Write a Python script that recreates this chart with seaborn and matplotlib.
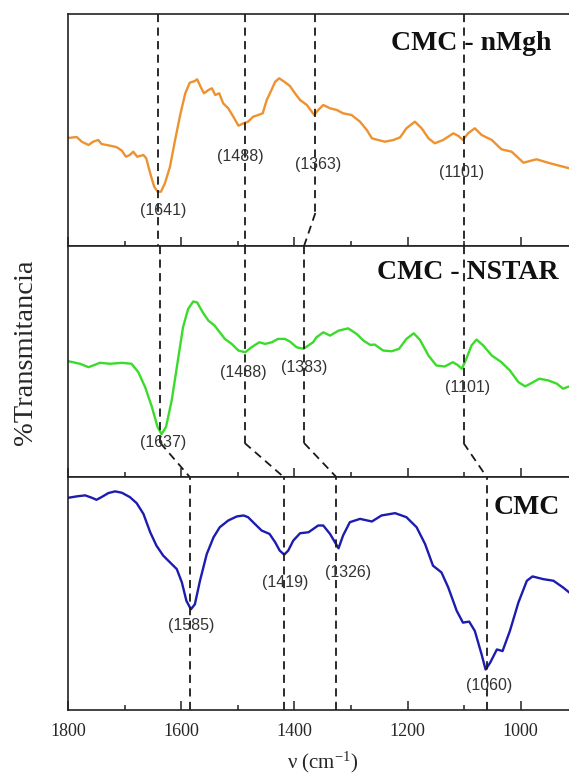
import matplotlib
matplotlib.use("Agg")
import matplotlib.pyplot as plt
import matplotlib.transforms as mtransforms
from matplotlib.ticker import MultipleLocator, NullLocator
import seaborn as sns
import pandas as pd

# ---------------- data ----------------
# CMC - nMgh (orange)
wn_nmgh = [1800, 1785, 1776, 1764, 1756, 1747, 1741, 1732, 1723, 1714, 1705, 1698, 1691, 1685,
           1678, 1667, 1662, 1655, 1648, 1642, 1636, 1629, 1620, 1611, 1602, 1593, 1585, 1576,
           1572, 1566, 1560, 1552, 1546, 1540, 1533, 1526, 1517, 1508, 1499, 1490, 1482, 1473,
           1464, 1456, 1449, 1442, 1434, 1427, 1418, 1408, 1399, 1390, 1378, 1365, 1358, 1349,
           1337, 1325, 1314, 1299, 1284, 1272, 1263, 1252, 1240, 1225, 1213, 1202, 1187, 1175,
           1163, 1152, 1137, 1119, 1110, 1102, 1093, 1081, 1069, 1051, 1034, 1016, 995, 972,
           948, 914, 900]
t_nmgh = [108, 109, 104.3, 101, 104.3, 106, 102, 101, 100, 98.7, 95.3, 89.3, 91, 94.3,
          89.3, 91, 87.7, 72.7, 59.3, 54.3, 54.3, 62.7, 79.3, 106, 131, 152.7, 163.3, 165,
          166.7, 159.3, 152.7, 156, 157.7, 151, 152.7, 142.7, 137.7, 129.3, 120.3, 122.7, 124.3, 129.3,
          131, 132.7, 146, 154.3, 164.3, 167.7, 164.3, 160, 152.7, 146, 141, 131, 136, 141,
          137.7, 136, 132.7, 131, 124.3, 116, 107.7, 106, 104.3, 106, 108.7, 117.7, 124.3, 117.7,
          107.7, 102.7, 106, 112.7, 110, 106, 112.7, 117.7, 111, 106, 96.7, 94.3, 83.3, 86.7,
          82.7, 77.7, 76]

# CMC - NSTAR (green)
wn_nstar = [1800, 1779, 1764, 1756, 1744, 1726, 1705, 1688, 1676, 1664, 1652, 1642, 1635, 1627,
            1617, 1607, 1597, 1588, 1579, 1572, 1562, 1552, 1541, 1532, 1523, 1511, 1499, 1487,
            1476, 1462, 1452, 1440, 1429, 1417, 1408, 1396, 1384, 1367, 1361, 1349, 1337, 1322,
            1305, 1290, 1278, 1266, 1258, 1243, 1228, 1215, 1202, 1189, 1178, 1163, 1149, 1134,
            1120, 1112, 1104, 1096, 1087, 1078, 1066, 1051, 1034, 1019, 1004, 992, 981, 967,
            951, 936, 925, 914, 900]
t_nstar = [116.3, 113.7, 110.3, 112, 114.7, 113.7, 114.7, 113.7, 105.3, 90.3, 70.3, 50.3, 43, 50.3,
           77, 113.7, 150.3, 168.7, 176.3, 175.3, 165.3, 157, 152, 145.3, 138.7, 133.7, 127, 125.3,
           130.3, 135.3, 133.7, 135.3, 138.7, 138.7, 136, 130.3, 128.7, 135.3, 140.3, 145.3, 142, 147,
           149.3, 143.7, 137, 132.7, 133, 127, 126.3, 128.7, 138.7, 144.3, 137.7, 122, 112, 111,
           115.3, 112.7, 108.7, 118.7, 132, 138, 132, 122, 115.3, 107, 95.3, 91, 94.3, 98.7,
           97, 93.7, 88.7, 91, 90]

# CMC (blue)
wn_cmc = [1800, 1785, 1770, 1758, 1750, 1741, 1729, 1717, 1705, 1691, 1679, 1667, 1655, 1644,
          1632, 1620, 1608, 1599, 1591, 1583, 1576, 1567, 1555, 1543, 1532, 1517, 1502, 1490,
          1482, 1470, 1458, 1444, 1434, 1426, 1418, 1411, 1402, 1390, 1375, 1358, 1349, 1337,
          1322, 1314, 1302, 1284, 1263, 1246, 1222, 1202, 1184, 1169, 1155, 1140, 1128, 1113,
          1102, 1091, 1081, 1069, 1062, 1054, 1042, 1032, 1019, 1004, 989, 979, 960, 942,
          925, 914, 900]
t_cmc = [211.3, 212.7, 213.7, 211.3, 209.3, 212, 216, 217.7, 216.3, 212, 206, 195.3, 177, 163.7,
         153.7, 147, 140.3, 127, 108.7, 100.3, 105.3, 128.7, 155.3, 172, 182, 188.7, 192.7, 193.7,
         192, 185.3, 178.7, 175.3, 167, 158.7, 154.7, 158.7, 168.7, 176, 177, 183.7, 183.7, 175.3,
         161, 173.7, 187, 190.3, 187.7, 193.7, 196, 192, 182, 165.3, 143.7, 137, 122, 98.7,
         87, 88, 78.7, 55.3, 40.3, 47, 60.3, 58.7, 78.7, 107, 128.7, 133, 130.3, 128.7,
         122, 117, 114]

titles = ["CMC - nMgh", "CMC - NSTAR", "CMC"]
colors = ["#EE9230", "#3ADB2A", "#1C1CB0"]

# peak positions (labels) per panel
peaks_nmgh = [1641, 1488, 1363, 1101]
peaks_nstar = [1637, 1488, 1383, 1101]
peaks_cmc = [1585, 1419, 1326, 1060]

# label anchor positions (wavenumber, transmittance units)
lab_x_nmgh = [1632, 1495, 1358, 1104]
lab_y_nmgh = [36, 90, 82, 74]
lab_x_nstar = [1632, 1491, 1382, 1094]
lab_y_nstar = [35, 105, 110, 90]
lab_x_cmc = [1583, 1417, 1305, 1056]
lab_y_cmc = [84, 127, 137, 24]

title_x = [1229, 1254, 1047]
title_y = [203, 205, 202]

xticks_major = [1800, 1600, 1400, 1200, 1000]

# ---------------- style ----------------
sns.set_theme(style="ticks")
plt.rcParams["font.family"] = ["Liberation Serif", "DejaVu Serif"]
plt.rcParams["mathtext.fontset"] = "stix"

W, H = 569, 778
fig = plt.figure(figsize=(W / 100, H / 100), dpi=100)

left = 68.2 / W
width = (577.2 - 68.2) / W
panels_px = [(14, 246), (246, 477), (477, 710)]
axes = []
for top, bot in panels_px:
    ax = fig.add_axes([left, (H - bot) / H, width, (bot - top) / H])
    axes.append(ax)

datasets = [(wn_nmgh, t_nmgh), (wn_nstar, t_nstar), (wn_cmc, t_cmc)]
labels = [(peaks_nmgh, lab_x_nmgh, lab_y_nmgh),
          (peaks_nstar, lab_x_nstar, lab_y_nstar),
          (peaks_cmc, lab_x_cmc, lab_y_cmc)]

dash_kw = dict(color="#1a1a1a", lw=1.3, dashes=(4.5, 3))

for i, ax in enumerate(axes):
    wn, t = datasets[i]
    df = pd.DataFrame({"wn": wn, "T": t})
    sns.lineplot(data=df, x="wn", y="T", ax=ax, color=colors[i], lw=1.7,
                 sort=False, estimator=None)
    ax.set_xlim(1800, 900)
    ax.set_ylim(0, 232)
    ax.set_ylabel("")
    ax.set_xlabel("")
    ax.yaxis.set_major_locator(NullLocator())
    ax.xaxis.set_major_locator(MultipleLocator(200))
    ax.xaxis.set_minor_locator(MultipleLocator(100))
    ax.tick_params(axis="x", which="major", direction="in", length=6.5, width=1.1,
                   color="#222222", top=False, bottom=True, labelsize=13, pad=9)
    ax.tick_params(axis="x", which="minor", direction="in", length=3.6, width=1.1,
                   color="#222222", top=False, bottom=True)
    for s in ax.spines.values():
        s.set_linewidth(1.2)
        s.set_color("#222222")
    if i < 2:
        ax.tick_params(axis="x", which="both", labelbottom=False)
    ax.text(title_x[i], title_y[i], titles[i], fontsize=20, fontweight="bold",
            ha="left", va="center", color="#111111")
    pk, lx, ly = labels[i]
    for p, x, y in zip(pk, lx, ly):
        ax.text(x, y, f"({p})", fontsize=11.5, ha="center", va="center",
                family=["Liberation Sans", "DejaVu Sans"], color="#333333")

# dashed guide lines
frac_1 = (246 - 213) / 232.0
frac_2 = (477 - 443) / 231.0
ax1, ax2, ax3 = axes
tr1 = mtransforms.blended_transform_factory(ax1.transData, ax1.transAxes)
tr2 = mtransforms.blended_transform_factory(ax2.transData, ax2.transAxes)

# panel 1
for j, p in enumerate(peaks_nmgh):
    if j == 2:
        ax1.plot([p, p], [1, frac_1], transform=tr1, clip_on=False, **dash_kw)
        ax1.plot([p, peaks_nstar[j]], [frac_1, 0], transform=tr1, clip_on=False, **dash_kw)
    else:
        ax1.plot([p, p], [1, 0], transform=tr1, clip_on=False, **dash_kw)
# panel 2
for j, p in enumerate(peaks_nstar):
    ax2.plot([p, p], [1, frac_2], transform=tr2, clip_on=False, **dash_kw)
    ax2.plot([p, peaks_cmc[j]], [frac_2, 0], transform=tr2, clip_on=False, **dash_kw)
# panel 3
for p in peaks_cmc:
    ax3.axvline(p, ymin=0, ymax=1, **dash_kw)

ax3.set_xticks(xticks_major)
ax3.set_xticklabels([str(v) for v in xticks_major])
ax3.set_xlabel("ν (cm$^{\\mathregular{-1}}$)", fontsize=15, labelpad=7)

fig.text(25.4 / W, 1 - 352 / H, "%Transmitancia", rotation=90, fontsize=20.5,
         ha="center", va="center")

fig.savefig("out.png", dpi=100)
